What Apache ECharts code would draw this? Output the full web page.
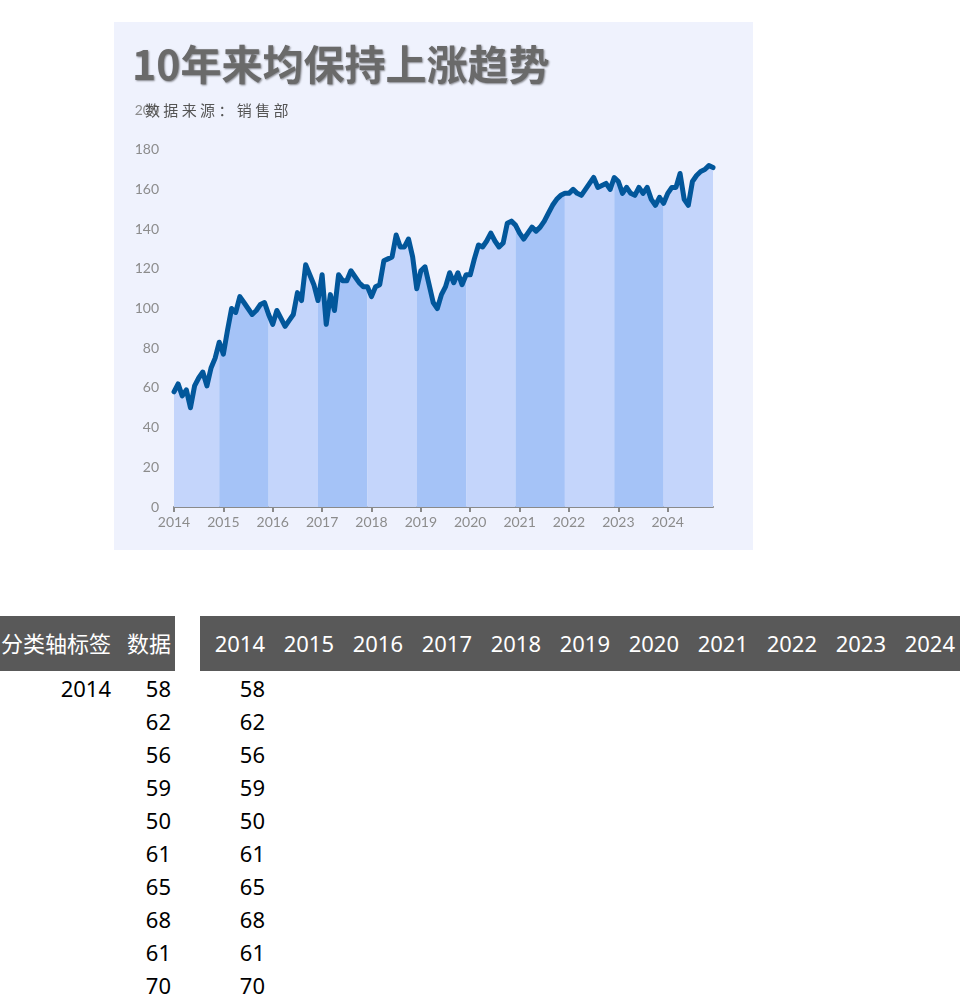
<!DOCTYPE html>
<html>
<head>
<meta charset="utf-8">
<script src="https://cdn.jsdelivr.net/npm/echarts@6/dist/echarts.min.js"></script>
<style>
html, body { margin:0; padding:0; width:971px; height:1004px; overflow:hidden; background:#ffffff; }
#chart { position:absolute; left:114px; top:22px; width:639px; height:528px; }
.tbl { position:absolute; font-family:"Noto Sans","Noto Sans CJK SC",sans-serif; font-size:22px; }
.hdr { position:absolute; background:#595959; color:#ffffff; height:55px; top:616px; }
.cell { position:absolute; text-align:right; white-space:nowrap; line-height:33px; height:33px; color:#000; }
.hcell { position:absolute; text-align:right; white-space:nowrap; line-height:55px; height:55px; top:0; color:#fff; }
</style>
</head>
<body>
<div id="chart"></div>
<div id="tables" class="tbl"></div>
<script>
// ---- data ----
const titleText = '10年来均保持上涨趋势';
const subTitleText = '数 据 来 源 ： 销 售 部';
const years = ['2014','2015','2016','2017','2018','2019','2020','2021','2022','2023','2024'];
const yTicks = { min: 0, max: 200, interval: 20 };
const values = [
  58,62,56,59,50,61,65,68,61,70,75,83,
  77,89,100,98,106,103,100,97,99,102,103,97,
  92,99,95,91,94,97,108,104,122,117,112,104,
  117,92,107,99,117,114,114,119,116,113,111,111,
  106,111,112,124,125,126,137,131,131,135,126,110,
  119,121,112,103,100,107,111,118,113,118,112,117,
  117,125,132,131,134,138,134,131,133,143,144,142,
  138,135,138,141,139,141,144,148,152,155,157,158,
  158,160,158,157,160,163,166,161,162,163,160,166,
  164,158,161,158,157,161,158,161,155,152,156,153,
  158,161,161,168,155,152,164,167,169,170,172,171
];
const tableHeaders = ['分类轴标签', '数据'];

// ---- derived ----
const categories = [];
years.forEach(y => { for (let m = 1; m <= 12; m++) categories.push(y + '-' + m); });
const inBand = (k, i) => i >= Math.max(0, 12 * k - 1) && i <= 12 * k + 11;
const bandColors = ['#c4d5fb', '#a5c3f7'];

const bandSeries = years.map((y, k) => ({
  name: y,
  type: 'line',
  data: values.map((v, i) => inBand(k, i) ? v : null),
  symbol: 'none',
  silent: true,
  lineStyle: { width: 0 },
  areaStyle: { color: bandColors[k % 2], opacity: 1 },
  z: 1
}));

const chart = echarts.init(document.getElementById('chart'), null, { renderer: 'canvas' });
chart.setOption({
  backgroundColor: '#eff2fd',
  animation: false,
  title: [
    {
      text: titleText, left: 13, top: 17,
      textStyle: {
        fontFamily: '"Noto Sans CJK SC", sans-serif', fontSize: 41, fontWeight: 'bold',
        color: '#6a6a6a', textShadowColor: 'rgba(0,0,0,0.45)', textShadowBlur: 2,
        textShadowOffsetX: 1, textShadowOffsetY: 1
      }
    },
    {
      text: subTitleText, left: 26, top: 76,
      textStyle: {
        fontFamily: '"Noto Sans CJK SC", sans-serif', fontSize: 15, fontWeight: 'normal',
        color: '#555555'
      }
    }
  ],
  grid: { left: 60, right: 40, top: 88, bottom: 43, containLabel: false },
  xAxis: {
    type: 'category',
    data: categories,
    boundaryGap: false,
    axisLine: { show: true, lineStyle: { color: '#8a8a8a', width: 2 } },
    axisTick: { show: true, length: 5, interval: (i) => i % 12 === 0, lineStyle: { color: '#8a8a8a', width: 2 } },
    axisLabel: {
      interval: (i) => i % 12 === 0,
      formatter: (v) => v.split('-')[0],
      color: '#8c8c8c', fontSize: 14, margin: 8, fontFamily: 'Lato, sans-serif'
    },
    splitLine: { show: false }
  },
  yAxis: {
    type: 'value',
    min: yTicks.min, max: yTicks.max, interval: yTicks.interval,
    axisLine: { show: false },
    axisTick: { show: false },
    splitLine: { show: false },
    axisLabel: { color: '#8c8c8c', fontSize: 14, margin: 15, fontFamily: 'Lato, sans-serif' }
  },
  series: bandSeries.concat([{
    name: '数据',
    type: 'line',
    data: values,
    symbol: 'none',
    z: 3,
    lineStyle: { width: 5, color: '#02579b', join: 'round', cap: 'round' }
  }])
});

// ---- spreadsheet-like tables ----
const host = document.getElementById('tables');
function el(cls, style, text, parent) {
  const d = document.createElement('div');
  d.className = cls;
  Object.assign(d.style, style);
  d.textContent = text;
  (parent || host).appendChild(d);
  return d;
}
// left header
const h1 = el('hdr', { left: '0px', width: '175px' }, '');
el('hcell', { left: '0px', width: '111px' }, tableHeaders[0], h1);
el('hcell', { left: '111px', width: '60px' }, tableHeaders[1], h1);
// right header
const h2 = el('hdr', { left: '200px', width: '760px' }, '');
years.forEach((y, k) => {
  el('hcell', { left: (k * 69) + 'px', width: '65px' }, y, h2);
});
// rows
values.forEach((v, i) => {
  const top = 672 + i * 33;
  if (top > 1010) return;
  if (i % 12 === 0) el('cell', { left: '0px', width: '111px', top: top + 'px' }, years[i / 12]);
  el('cell', { left: '111px', width: '60px', top: top + 'px' }, String(v));
  years.forEach((y, k) => {
    if (i >= 12 * k && i <= 12 * k + 11) {
      el('cell', { left: (200 + k * 69) + 'px', width: '65px', top: top + 'px' }, String(v));
    }
  });
});
</script>
</body>
</html>
